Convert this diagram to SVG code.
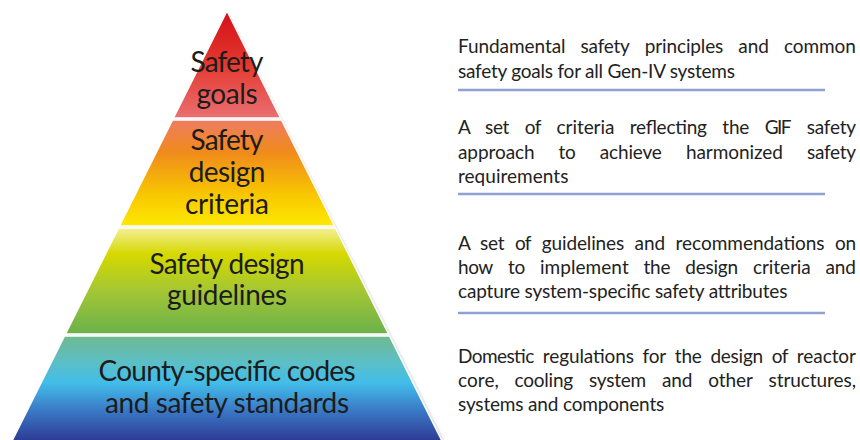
<svg xmlns="http://www.w3.org/2000/svg" width="860" height="440" viewBox="0 0 860 440">
<defs>
<linearGradient id="g1" x1="0" y1="11" x2="0" y2="118" gradientUnits="userSpaceOnUse">
<stop offset="0" stop-color="#d40f18"/><stop offset="0.5" stop-color="#e4392f"/><stop offset="1" stop-color="#ea6f72"/>
</linearGradient>
<linearGradient id="g2" x1="0" y1="120" x2="0" y2="226" gradientUnits="userSpaceOnUse">
<stop offset="0" stop-color="#ee7c62"/><stop offset="0.3" stop-color="#f08a1c"/><stop offset="0.7" stop-color="#f8c600"/><stop offset="1" stop-color="#fde900"/>
</linearGradient>
<linearGradient id="g3" x1="0" y1="228" x2="0" y2="334" gradientUnits="userSpaceOnUse">
<stop offset="0" stop-color="#f4ef96"/><stop offset="0.25" stop-color="#d6d800"/><stop offset="0.6" stop-color="#a2c634"/><stop offset="1" stop-color="#6bb14c"/>
</linearGradient>
<linearGradient id="g4" x1="0" y1="336" x2="0" y2="440" gradientUnits="userSpaceOnUse">
<stop offset="0" stop-color="#6fb98e"/><stop offset="0.25" stop-color="#5cbfc6"/><stop offset="0.45" stop-color="#42bde9"/><stop offset="0.72" stop-color="#3a78c6"/><stop offset="1" stop-color="#2e3c96"/>
</linearGradient>
<filter id="blur" x="-5%" y="-200%" width="110%" height="500%"><feGaussianBlur stdDeviation="1.2"/></filter>
</defs>
<style>
.tier{stroke:#ffffff;stroke-width:1.5}
.pt{font-family:Lato,"Liberation Sans",sans-serif;font-size:28px;fill:#1c1c1c;text-anchor:middle}
.dt{font-family:Lato,"Liberation Sans",sans-serif;font-size:19px;fill:#222222}
.ul{stroke:#8fa1d3;stroke-width:2.5}
.sh{stroke:#8a8a8a;stroke-width:3;opacity:0.45;filter:url(#blur)}
</style>
<rect width="860" height="440" fill="#ffffff"/>
<polygon points="228,12 444,440 14,440" fill="#bdbdbd" opacity="0.5" filter="url(#blur)"/>
<g id="tier-goals">
<polygon class="tier" points="227,11 280.5,118 173.5,118" fill="url(#g1)"/>
<text class="pt" x="227" y="72" textLength="73" lengthAdjust="spacing">Safety</text>
<text class="pt" x="227" y="104" textLength="61" lengthAdjust="spacing">goals</text>
</g>
<g id="tier-criteria">
<polygon class="tier" points="172.5,120 281.5,120 334.5,226 119.5,226" fill="url(#g2)"/>
<text class="pt" x="227" y="150" textLength="73" lengthAdjust="spacing">Safety</text>
<text class="pt" x="227" y="182" textLength="76.5" lengthAdjust="spacing">design</text>
<text class="pt" x="227" y="214" textLength="84" lengthAdjust="spacing">criteria</text>
</g>
<g id="tier-guidelines">
<polygon class="tier" points="118.5,228 335.5,228 388.5,334 65.5,334" fill="url(#g3)"/>
<text class="pt" x="227" y="274" textLength="155" lengthAdjust="spacing">Safety design</text>
<text class="pt" x="227" y="305" textLength="120" lengthAdjust="spacing">guidelines</text>
</g>
<g id="tier-codes">
<polygon class="tier" points="64.5,336 389.5,336 443,443 11,443" fill="url(#g4)"/>
<text class="pt" x="227" y="381" textLength="257" lengthAdjust="spacing">County-specific codes</text>
<text class="pt" x="227" y="413" textLength="244" lengthAdjust="spacing">and safety standards</text>
</g>
<g id="desc-goals">
<text class="dt" y="53"><tspan x="458" textLength="107.6">Fundamental</tspan><tspan x="580.6" textLength="49.2">safety</tspan><tspan x="644.8" textLength="78.5">principles</tspan><tspan x="738.3" textLength="30.6">and</tspan><tspan x="783.9" textLength="72">common</tspan></text>
<text class="dt" x="458" y="78" textLength="277" lengthAdjust="spacing">safety goals for all Gen-IV systems</text>
<line class="sh" x1="460" y1="93" x2="827" y2="93"/>
<line class="ul" x1="458" y1="90" x2="825" y2="90"/>
</g>
<g id="desc-criteria">
<text class="dt" y="134"><tspan x="458" textLength="11.6">A</tspan><tspan x="484.9" textLength="24.5">set</tspan><tspan x="524.7" textLength="16.6">of</tspan><tspan x="556.6" textLength="57.8">criteria</tspan><tspan x="629.7" textLength="77.2">reflecting</tspan><tspan x="722.2" textLength="27.2">the</tspan><tspan x="764.7" textLength="26.8">GIF</tspan><tspan x="806.8" textLength="49.2">safety</tspan></text>
<text class="dt" y="159"><tspan x="458" textLength="76.6">approach</tspan><tspan x="558.6" textLength="17.2">to</tspan><tspan x="599.8" textLength="62.1">achieve</tspan><tspan x="685.9" textLength="97">harmonized</tspan><tspan x="806.9" textLength="49.2">safety</tspan></text>
<text class="dt" x="458" y="183" textLength="110.4" lengthAdjust="spacing">requirements</text>
<line class="sh" x1="460" y1="197" x2="827" y2="197"/>
<line class="ul" x1="458" y1="194" x2="825" y2="194"/>
</g>
<g id="desc-guidelines">
<text class="dt" y="250"><tspan x="458" textLength="11.6">A</tspan><tspan x="480" textLength="24.5">set</tspan><tspan x="514.9" textLength="16.6">of</tspan><tspan x="541.8" textLength="82.4">guidelines</tspan><tspan x="634.6" textLength="30.6">and</tspan><tspan x="675.6" textLength="149">recommendations</tspan><tspan x="835" textLength="21">on</tspan></text>
<text class="dt" y="274"><tspan x="458" textLength="35.3">how</tspan><tspan x="508" textLength="17.2">to</tspan><tspan x="540" textLength="88.7">implement</tspan><tspan x="643.4" textLength="27.2">the</tspan><tspan x="685.3" textLength="52.8">design</tspan><tspan x="752.9" textLength="57.8">criteria</tspan><tspan x="825.4" textLength="30.6">and</tspan></text>
<text class="dt" x="458" y="298" textLength="329.4" lengthAdjust="spacing">capture system-specific safety attributes</text>
<line class="sh" x1="460" y1="316" x2="827" y2="316"/>
<line class="ul" x1="458" y1="313" x2="825" y2="313"/>
</g>
<g id="desc-codes">
<text class="dt" y="363"><tspan x="458" textLength="76.3">Domestic</tspan><tspan x="542.8" textLength="91.2">regulations</tspan><tspan x="642.5" textLength="23.6">for</tspan><tspan x="674.7" textLength="27.2">the</tspan><tspan x="710.4" textLength="52.8">design</tspan><tspan x="771.7" textLength="16.6">of</tspan><tspan x="796.8" textLength="59.2">reactor</tspan></text>
<text class="dt" y="387"><tspan x="458" textLength="40.9">core,</tspan><tspan x="514.6" textLength="58.6">cooling</tspan><tspan x="588.9" textLength="57.3">system</tspan><tspan x="661.9" textLength="30.6">and</tspan><tspan x="708.2" textLength="44.7">other</tspan><tspan x="768.6" textLength="87.4">structures,</tspan></text>
<text class="dt" x="458" y="411" textLength="206.3" lengthAdjust="spacing">systems and components</text>
</g>
</svg>
